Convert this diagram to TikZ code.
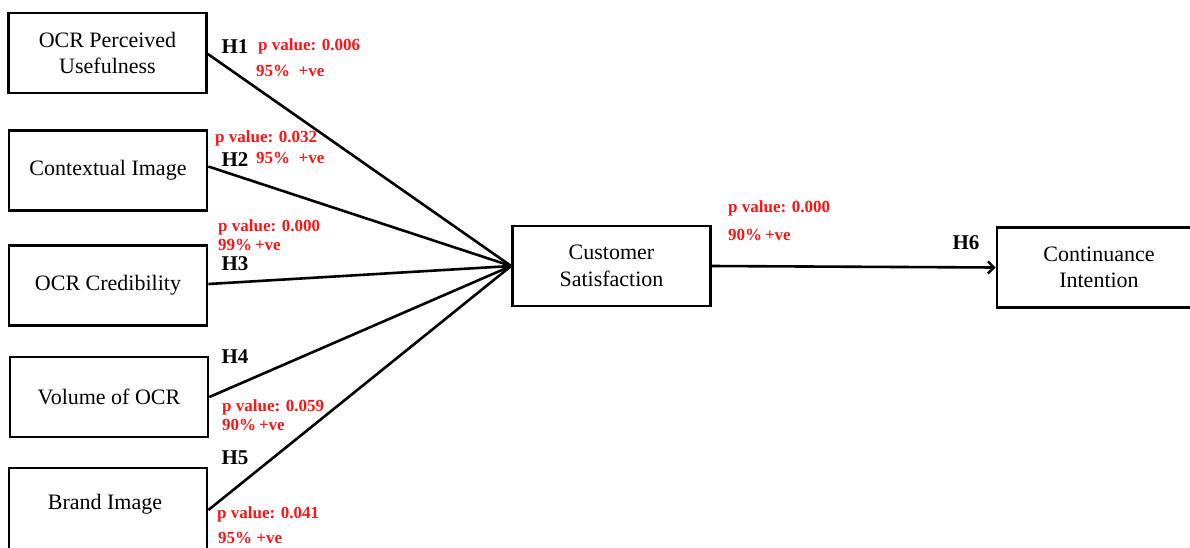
\documentclass[tikz,border=0pt]{standalone}
\usepackage{fontspec}
\setmainfont{Liberation Serif}
\usetikzlibrary{arrows.meta}
\definecolor{lblred}{RGB}{255,20,20}
\tikzset{
  box/.style={draw, line width=2.7pt, minimum width=198pt, minimum height=80pt, inner sep=0pt, align=center, font=\fontsize{22}{26.5}\selectfont},
  boxtext/.style={inner sep=0pt, align=center, font=\fontsize{22}{26.5}\selectfont},
  conn/.style={line width=2.6pt},
  hyp/.style={font=\fontsize{21}{24}\selectfont\bfseries, inner sep=0pt},
  pval/.style={font=\fontsize{17}{20}\selectfont\bfseries, text=lblred, inner sep=0pt, anchor=west}
}
\begin{document}
\begin{tikzpicture}[x=1pt,y=-1pt]
\useasboundingbox (0,0) rectangle (1190,547);
% left boxes
\node[box] (b1) at (107.5,53) {OCR Perceived\\Usefulness};
\node[box] (b2) at (108,170.5) {Contextual Image};
\node[box] (b3) at (108,285.5) {OCR Credibility};
\node[box] (b4) at (109,397) {Volume of OCR};
\node[box, minimum height=82pt] (b5) at (108,509) {};
\node[boxtext] (t5) at (105,504) {Brand Image};
\node[box] (cs) at (611.5,266) {Customer\\Satisfaction};
\node[box, minimum width=204pt] (ci) at (1099,267.5) {Continuance\\Intention};
% connectors
\draw[conn] ([yshift=-1pt]b1.east) -- (cs.west);
\draw[conn] ([yshift=4pt]b2.east) -- (cs.west);
\draw[conn] ([yshift=1.5pt]b3.east) -- (cs.west);
\draw[conn] (b4.east) -- (cs.west);
\draw[conn] ([yshift=-1pt]b5.east) -- (cs.west);
\draw[conn, -{Straight Barb[length=6pt,width=12pt,line width=2.4pt]}] (cs.east) -- (ci.west);
% hypothesis labels
\node[hyp] (h1) at (235,47) {H1};
\node[hyp] (h2) at (235,160) {H2};
\node[hyp] (h3) at (235,264) {H3};
\node[hyp] (h4) at (235,357) {H4};
\node[hyp] (h5) at (235,458) {H5};
\node[hyp] (h6) at (966,243) {H6};
% p values
\node[pval] (p1) at (258,46) {p value: 0.006};
\node[pval] (s1) at (256,71) {95\%\ \ +ve};
\node[pval] (p2) at (215,138) {p value: 0.032};
\node[pval] (s2) at (256,158) {95\%\ \ +ve};
\node[pval] (p3) at (218,227) {p value: 0.000};
\node[pval] (s3) at (218,245) {99\%\,+ve};
\node[pval] (p4) at (222,407) {p value: 0.059};
\node[pval] (s4) at (222,425) {90\%\,+ve};
\node[pval] (p5) at (217,514) {p value: 0.041};
\node[pval] (s5) at (218,538) {95\%\ +ve};
\node[pval] (p6) at (728,208) {p value: 0.000};
\node[pval] (s6) at (728,235) {90\%\,+ve};
\end{tikzpicture}
\end{document}
